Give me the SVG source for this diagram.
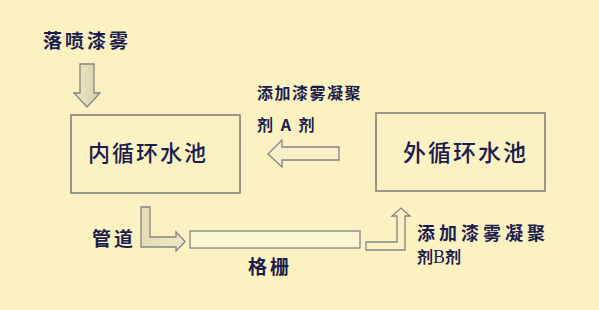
<svg xmlns="http://www.w3.org/2000/svg" width="599" height="310" viewBox="0 0 599 310">
  <defs>
    <linearGradient id="gDown" x1="0" y1="0" x2="1" y2="0">
      <stop offset="0" stop-color="#ede7c3"/>
      <stop offset="1" stop-color="#d9d2a6"/>
    </linearGradient>
    <linearGradient id="gPipe" x1="0" y1="0" x2="1" y2="0">
      <stop offset="0" stop-color="#e4dcb0"/>
      <stop offset="1" stop-color="#efe8c4"/>
    </linearGradient>
    <style>
      .bg { fill: #fbf1c1; }
      .box { fill: #fbf2c4; stroke: #7a7a7a; stroke-width: 1.5; }
      .arrow { stroke: #858585; stroke-width: 1.3; stroke-linejoin: miter; }
      .lbl { font-family: "Noto Sans CJK SC", "Liberation Sans", sans-serif; fill: #1c1c4e; font-weight: bold; }
      .big { font-family: "Noto Sans CJK SC", "Liberation Sans", sans-serif; fill: #1c1c4e; font-weight: 500; }
      .serif { font-family: "Liberation Serif", serif; font-weight: normal; }
    </style>
  </defs>
  <rect class="bg" x="0" y="0" width="599" height="310"/>

  <g id="label-spray">
    <text class="lbl" x="43" y="48" font-size="19" letter-spacing="3">落喷漆雾</text>
  </g>

  <g id="inner-pool">
    <rect class="box" x="71" y="115" width="169" height="78"/>
    <text class="big" x="88" y="161" font-size="22" letter-spacing="2">内循环水池</text>
  </g>

  <g id="outer-pool">
    <rect class="box" x="376" y="113" width="169" height="78"/>
    <text class="big" x="403" y="161" font-size="23" letter-spacing="2">外循环水池</text>
  </g>

  <g id="label-agentA">
    <text class="lbl" x="257" y="99" font-size="16" letter-spacing="1.5">添加漆雾凝聚</text>
    <text class="lbl" x="257" y="131" font-size="16" letter-spacing="2">剂 A 剂</text>
  </g>

  <g id="grille">
    <rect x="190" y="231" width="170" height="17" fill="#fcf5d2" stroke="#858585" stroke-width="1.3"/>
    <text class="lbl" x="248" y="274" font-size="19" letter-spacing="3">格栅</text>
  </g>

  <g id="label-pipe">
    <text class="lbl" x="92" y="246" font-size="19" letter-spacing="3">管道</text>
  </g>

  <g id="label-agentB">
    <text class="lbl" x="417" y="240" font-size="18" letter-spacing="4">添加漆雾凝聚</text>
    <text class="lbl" x="417" y="263" font-size="16">剂<tspan class="serif" font-size="18">B</tspan>剂</text>
  </g>

  <g id="connectors">
    <polygon class="arrow" fill="url(#gDown)" points="80,64 94,64 94,93 100,93 87,107 74,93 80,93"/>
    <polygon class="arrow" fill="#f8efc8" points="268,154 282,140 282,147 339,147 339,160 282,160 282,167"/>
    <polygon class="arrow" fill="url(#gPipe)" points="141,207 150,207 150,237 176,237 176,232 185,241.5 176,251 176,247 141,247"/>
    <polygon class="arrow" fill="#fbf1c1" points="366,242 397,242 397,216 392,216 401,208 410,216 405,216 405,250 366,250"/>
  </g>
</svg>
